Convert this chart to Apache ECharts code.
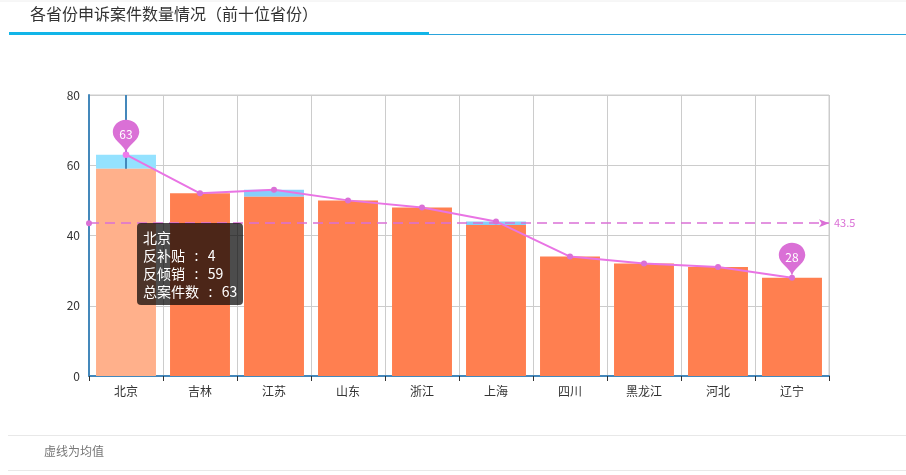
<!DOCTYPE html>
<html>
<head>
<meta charset="utf-8">
<title>各省份申诉案件数量情况</title>
<script src="https://cdn.jsdelivr.net/npm/echarts@6/dist/echarts.min.js"></script>
<style>
  html, body { margin: 0; padding: 0; background: #fff; }
  #main { width: 906px; height: 475px; }
</style>
</head>
<body>
<div id="main"></div>
<script>
var provinces = ['北京', '吉林', '江苏', '山东', '浙江', '上海', '四川', '黑龙江', '河北', '辽宁'];
var subsidy = [4, 0, 2, 0, 0, 1, 0, 0, 0, 0];       // 反补贴
var dumping = [59, 52, 51, 50, 48, 43, 34, 32, 31, 28]; // 反倾销
var total = [63, 52, 53, 50, 48, 44, 34, 32, 31, 28];   // 总案件数
var yTicks = [0, 20, 40, 60, 80];

var font = '"Noto Sans CJK SC", "Noto Sans", sans-serif';
var myChart = echarts.init(document.getElementById('main'));

// tooltip lists 反补贴 before 反倾销, bars stack the other way round
var tipOrder = ['反补贴', '反倾销', '总案件数'];
var sep = '&nbsp;&nbsp;&nbsp;:&nbsp;&nbsp;&nbsp;';

var option = {
  animation: false,
  textStyle: { fontFamily: font },
  title: {
    text: '各省份申诉案件数量情况（前十位省份）',
    left: 25,
    top: 1,
    textStyle: { fontSize: 16, fontWeight: 'normal', color: '#333', fontFamily: font }
  },
  graphic: [
    { type: 'line', shape: { x1: 0, y1: 1, x2: 906, y2: 1 }, style: { stroke: '#eee', lineWidth: 1 } },
    { type: 'rect', shape: { x: 9, y: 32, width: 420, height: 3 }, style: { fill: '#12b5e8' } },
    { type: 'line', shape: { x1: 429, y1: 34.5, x2: 906, y2: 34.5 }, style: { stroke: '#2aa4dc', lineWidth: 1 } },
    { type: 'line', shape: { x1: 8, y1: 435.5, x2: 906, y2: 435.5 }, style: { stroke: '#e8e8e8', lineWidth: 1 } },
    { type: 'text', left: 44, top: 445, style: { text: '虚线为均值', fill: '#777', font: '12px ' + font } },
    { type: 'line', shape: { x1: 8, y1: 470.5, x2: 906, y2: 470.5 }, style: { stroke: '#e8e8e8', lineWidth: 1 } }
  ],
  tooltip: {
    trigger: 'axis',
    triggerOn: 'none',
    alwaysShowContent: true,
    backgroundColor: 'rgba(0,0,0,0.7)',
    borderWidth: 0,
    padding: [5, 6],
    extraCssText: 'box-shadow:none;border-radius:4px;line-height:18px;',
    textStyle: { color: '#fff', fontSize: 14, fontFamily: font },
    position: function () { return [137, 223]; },
    formatter: function (params) {
      var s = params[0].name;
      tipOrder.forEach(function (name) {
        params.forEach(function (p) {
          if (p.seriesName === name) s += '<br/>' + p.seriesName + sep + p.value;
        });
      });
      return s;
    }
  },
  grid: {
    left: 89, right: 77, top: 95, bottom: 99,
    show: true, borderColor: '#ccc', borderWidth: 1
  },
  xAxis: {
    type: 'category',
    data: provinces,
    axisLine: { lineStyle: { color: '#48b', width: 2 } },
    axisTick: { show: true, length: 5, lineStyle: { color: '#333' } },
    axisLabel: { color: '#333', fontSize: 12, margin: 9 },
    splitLine: { show: true, lineStyle: { color: '#ccc' } },
    axisPointer: { type: 'line', z: 3, lineStyle: { color: '#48b', width: 2, type: 'solid' } }
  },
  yAxis: {
    type: 'value',
    min: yTicks[0],
    max: yTicks[yTicks.length - 1],
    interval: 20,
    axisLine: { show: true, lineStyle: { color: '#48b', width: 2 } },
    axisTick: { show: false },
    axisLabel: { color: '#333', fontSize: 12, margin: 9 },
    splitLine: { lineStyle: { color: '#ccc' } }
  },
  series: [
    {
      name: '反倾销',
      type: 'bar',
      stack: 'case',
      z: 4,
      barCategoryGap: '19%',
      itemStyle: { color: '#ff7f50' },
      data: dumping.map(function (v, i) {
        return i === 0 ? { value: v, itemStyle: { color: '#ffa07f' } } : v;
      })
    },
    {
      name: '反补贴',
      type: 'bar',
      stack: 'case',
      z: 2,
      itemStyle: { color: '#87cefa' },
      data: subsidy
    },
    {
      name: '总案件数',
      type: 'line',
      z: 5,
      symbol: 'circle',
      symbolSize: 6,
      itemStyle: { color: '#da70d6' },
      lineStyle: { color: '#d46ad0', width: 2 },
      data: total,
      markPoint: {
        symbol: 'pin',
        symbolSize: [44, 40],
        itemStyle: { color: '#da70d6' },
        label: { color: '#fff', fontSize: 12, offset: [0, 1] },
        data: [{ type: 'max', name: '最大值' }, { type: 'min', name: '最小值' }]
      },
      markLine: {
        symbol: ['circle', 'arrow'],
        symbolSize: [6, 10],
        lineStyle: { color: '#da70d6', type: [10, 6], width: 1.5 },
        label: { position: 'end', formatter: '{c}', color: '#da70d6', fontSize: 11 },
        data: [{ type: 'average', name: '平均值' }]
      }
    }
  ]
};

myChart.setOption(option);
myChart.dispatchAction({ type: 'showTip', seriesIndex: 2, dataIndex: 0 });
</script>
</body>
</html>
